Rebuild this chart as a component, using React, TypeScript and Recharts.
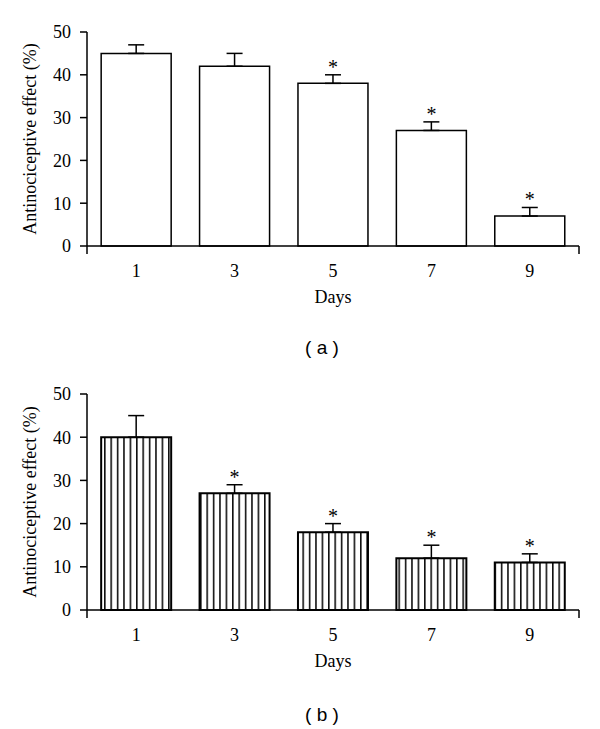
import { ComposedChart, Bar, XAxis, YAxis, ErrorBar, Scatter, Label } from "recharts"

const days = ["1", "3", "5", "7", "9"]
const yTicks = [0, 10, 20, 30, 40, 50]

// panel (a)
const meanA = [45, 42, 38, 27, 7]
const errA = [2, 3, 2, 2, 2]
const sigA = [false, false, true, true, true]

// panel (b)
const meanB = [40, 27, 18, 12, 11]
const errB = [5, 2, 2, 3, 2]
const sigB = [false, true, true, true, true]

const serif = "'Liberation Serif', 'Times New Roman', serif"

function makeRows(mean: number[], err: number[], sig: boolean[]) {
  return days.map((d, i) => ({
    day: d,
    mean: mean[i],
    err: [0, err[i]],
    star: sig[i] ? mean[i] + err[i] : null,
  }))
}

function DayTick(props: any) {
  const { x, y, payload, index, visibleTicksCount } = props
  const half = payload.offset ?? 0
  return (
    <g>
      {index === 0 && <line x1={x - half} x2={x - half} y1={y} y2={y + 8} stroke="#000" strokeWidth={1.5} />}
      {index === visibleTicksCount - 1 && (
        <line x1={x + half} x2={x + half} y1={y} y2={y + 8} stroke="#000" strokeWidth={1.5} />
      )}
      <text x={x} y={y + 27} textAnchor="middle" dominantBaseline="middle" fontFamily={serif} fontSize={18} fill="#000">
        {payload.value}
      </text>
    </g>
  )
}

function Star(props: any) {
  const { cx, cy, payload } = props
  if (payload.star == null) return null
  return (
    <text x={cx} y={cy - 1} textAnchor="middle" fontFamily={serif} fontSize={20} fill="#000">
      *
    </text>
  )
}

function YTitle(props: any) {
  const { x, y, height } = props.viewBox
  const cx = x + 24
  const cy = y + height / 2
  return (
    <text x={cx} y={cy} transform={`rotate(-90 ${cx} ${cy})`} textAnchor="middle" dominantBaseline="middle"
      fontFamily={serif} fontSize={18} fill="#000">
      Antinociceptive effect (%)
    </text>
  )
}

function XTitle(props: any) {
  const { x, y, width } = props.viewBox
  return (
    <text x={x + width / 2} y={y + 53} textAnchor="middle" dominantBaseline="middle" fontFamily={serif} fontSize={18} fill="#000">
      Days
    </text>
  )
}

function Panel({ data, striped, id, height }: { data: any[]; striped: boolean; id: string; height: number }) {
  return (
    <ComposedChart width={592} height={height} data={data} margin={{ top: 24, right: 21, bottom: 0, left: 0 }} barCategoryGap="14.4%">
      <defs>
        <pattern id={id} patternUnits="userSpaceOnUse" width={6.4} height={10}>
          <rect width={6.4} height={10} fill="#fff" />
          <line x1={0.8} y1={0} x2={0.8} y2={10} stroke="#000" strokeWidth={1.5} />
        </pattern>
      </defs>
      <XAxis dataKey="day" height={62} interval={0} tickSize={0} tickMargin={0} tickLine={false}
        axisLine={{ stroke: "#000", strokeWidth: 1.5 }} tick={<DayTick />}>
        <Label content={<XTitle />} />
      </XAxis>
      <YAxis width={79} domain={[0, 50]} ticks={yTicks} interval={0} tickSize={7} tickMargin={9}
        axisLine={{ stroke: "#000", strokeWidth: 1.5 }} tickLine={{ stroke: "#000", strokeWidth: 1.5 }}
        tick={{ fill: "#000", fontSize: 18, fontFamily: serif }}>
        <Label content={<YTitle />} />
      </YAxis>
      <Bar dataKey="mean" fill={striped ? `url(#${id})` : "#fff"} stroke="#000" strokeWidth={striped ? 2 : 1.5} isAnimationActive={false}>
        <ErrorBar dataKey="err" direction="y" width={8} stroke="#000" strokeWidth={1.5} />
      </Bar>
      <Scatter dataKey="star" shape={<Star />} isAnimationActive={false} />
    </ComposedChart>
  )
}

const caption: React.CSSProperties = {
  position: "absolute",
  left: 264,
  width: 100,
  textAlign: "center",
  fontFamily: "'Liberation Sans', Arial, sans-serif",
  fontSize: 19,
  lineHeight: "20px",
  color: "#000",
}

export default function App() {
  return (
    <div style={{ position: "relative", width: 592, height: 721, background: "#fff" }}>
      <div style={{ position: "absolute", left: 0, top: 0 }}>
        <Panel data={makeRows(meanA, errA, sigA)} striped={false} id="stripeA" height={300} />
      </div>
      <div style={{ ...caption, top: 330 }}>( a )</div>
      <div style={{ position: "absolute", left: 0, top: 362 }}>
        <Panel data={makeRows(meanB, errB, sigB)} striped={true} id="stripeB" height={302} />
      </div>
      <div style={{ ...caption, top: 697 }}>( b )</div>
    </div>
  )
}
